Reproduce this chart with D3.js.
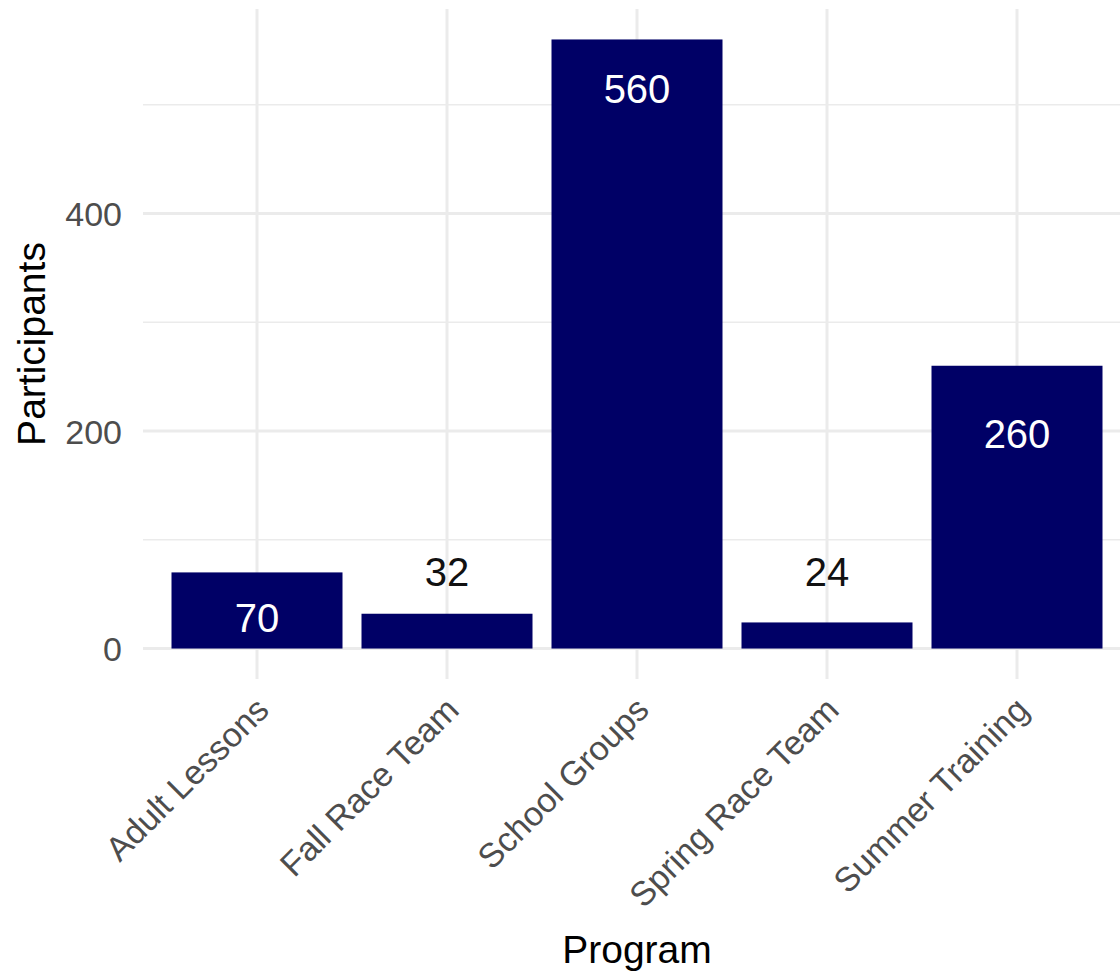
<!DOCTYPE html>
<html>
<head>
<meta charset="utf-8">
<script src="https://cdn.jsdelivr.net/npm/d3@7"></script>
<style>
  html, body { margin: 0; padding: 0; background: #fff; }
  svg { display: block; }
  text { font-family: "Liberation Sans", Arial, sans-serif; }
</style>
</head>
<body>
<svg id="chart" width="1120" height="978"></svg>
<script>
// ---- data ----
const programs = ["Adult Lessons", "Fall Race Team", "School Groups", "Spring Race Team", "Summer Training"];
const participants = [70, 32, 560, 24, 260];
// data value at which each value label is centred
const labelAt = [28, 71, 515, 71, 198];
const yTicks = [0, 200, 400];
const yMinorTicks = [100, 300, 500];

// ---- layout ----
const W = 1120, H = 978;
const panel = { left: 143, right: 1131, top: 9, bottom: 679 };
const svg = d3.select("#chart");

const x = d3.scaleBand()
  .domain(programs)
  .range([panel.left, panel.right])
  .paddingInner(0.1)
  .paddingOuter(0.15);

const y = d3.scaleLinear()
  .domain([-28, 588])
  .range([panel.bottom, panel.top]);

const grid = svg.append("g");
// minor horizontal
grid.selectAll("line.minor").data(yMinorTicks).join("line")
  .attr("x1", panel.left).attr("x2", W)
  .attr("y1", d => y(d)).attr("y2", d => y(d))
  .attr("stroke", "#EBEBEB").attr("stroke-width", 1.6);
// major horizontal
grid.selectAll("line.majorY").data(yTicks).join("line")
  .attr("x1", panel.left).attr("x2", W)
  .attr("y1", d => y(d)).attr("y2", d => y(d))
  .attr("stroke", "#EBEBEB").attr("stroke-width", 3);
// major vertical
grid.selectAll("line.majorX").data(programs).join("line")
  .attr("x1", d => x(d) + x.bandwidth() / 2).attr("x2", d => x(d) + x.bandwidth() / 2)
  .attr("y1", panel.top).attr("y2", panel.bottom)
  .attr("stroke", "#EBEBEB").attr("stroke-width", 3);

// bars
const data = programs.map((p, i) => ({ p, v: participants[i], l: labelAt[i] }));
svg.append("g").selectAll("rect").data(data).join("rect")
  .attr("x", d => x(d.p))
  .attr("width", x.bandwidth())
  .attr("y", d => y(d.v))
  .attr("height", d => y(0) - y(d.v))
  .attr("fill", "#000066");

// value labels
svg.append("g").selectAll("text").data(data).join("text")
  .attr("x", d => x(d.p) + x.bandwidth() / 2)
  .attr("y", d => y(d.l))
  .attr("dy", "0.36em")
  .attr("text-anchor", "middle")
  .attr("font-size", 40)
  .attr("fill", d => d.l < d.v ? "#ffffff" : "#111111")
  .text(d => d.v);

// y axis tick labels
const yAxis = d3.axisLeft(y).tickValues(yTicks).tickSize(0).tickPadding(0);
const yg = svg.append("g").attr("transform", `translate(122,0)`).call(yAxis);
yg.select(".domain").remove();
yg.selectAll("text")
  .attr("font-size", 34)
  .attr("fill", "#4D4D4D")
  .attr("font-family", "Liberation Sans, Arial, sans-serif")
  .attr("dy", "0.36em");

// x axis tick labels
const xAxis = d3.axisBottom(x).tickSize(0).tickPadding(0);
const xg = svg.append("g").attr("transform", `translate(0,${panel.bottom + 12})`).call(xAxis);
xg.select(".domain").remove();
xg.selectAll("text")
  .attr("font-size", 34)
  .attr("fill", "#4D4D4D")
  .attr("font-family", "Liberation Sans, Arial, sans-serif")
  .attr("text-anchor", "end")
  .attr("x", -5)
  .attr("y", 0)
  .attr("dy", "0.72em")
  .attr("transform", "rotate(-45)");

// axis titles
svg.append("text")
  .attr("x", (panel.left + panel.right) / 2)
  .attr("y", 963)
  .attr("text-anchor", "middle")
  .attr("font-size", 39)
  .attr("fill", "#000")
  .text("Program");

svg.append("text")
  .attr("transform", `translate(45,${(panel.top + panel.bottom) / 2}) rotate(-90)`)
  .attr("text-anchor", "middle")
  .attr("font-size", 39)
  .attr("fill", "#000")
  .text("Participants");
</script>
</body>
</html>
